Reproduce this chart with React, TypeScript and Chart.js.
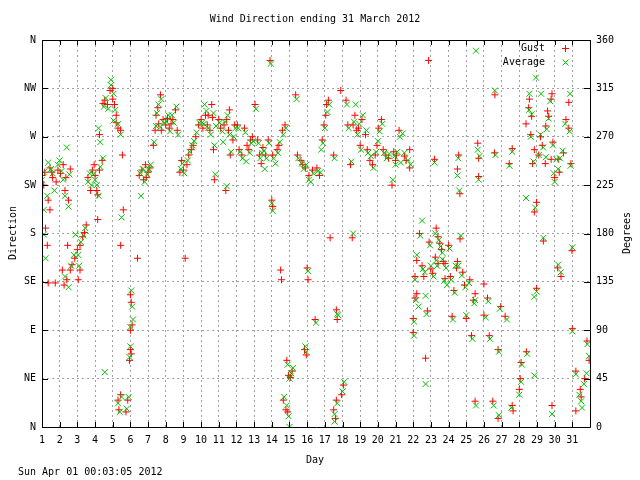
import React, { useEffect, useRef } from "react";
import { Chart, registerables } from "chart.js";

Chart.register(...registerables);

const TITLE = "Wind Direction ending 31 March 2012";
const FOOTER = "Sun Apr 01 00:03:05 2012";
const X_TITLE = "Day";
const Y_TITLE = "Direction";
const Y2_TITLE = "Degrees";
const COMPASS = ["N", "NE", "E", "SE", "S", "SW", "W", "NW", "N"];
const SERIES_NAMES = ["Gust", "Average"];

// [day, degrees]
const gustPoints: number[][] = [
  [1.0,234],[1.15,237],[1.45,241],[1.55,237],[1.1,225],[1.35,211],[1.45,202],[1.2,185],[1.3,169],[1.35,134],[1.75,134],[1.9,239],[1.6,232],[1.8,228],
  [2.05,236],[2.2,244],[2.3,220],[2.5,211],[2.15,146],[2.25,132],[2.4,137],[2.6,146],[2.7,151],[2.85,157],[2.45,169],[2.35,232],[2.6,240],
  [3.0,165],[3.15,169],[3.3,177],[3.4,181],[3.5,188],[3.15,146],[3.05,137],[3.75,220],[3.85,239],[3.95,244],[3.6,232],
  [4.0,234],[4.1,220],[4.15,216],[4.25,239],[4.4,248],[4.15,193],[4.25,272],[4.45,301],[4.55,304],[4.7,300],[4.85,313],
  [5.0,315],[5.1,300],[5.2,290],[5.3,278],[5.45,276],[5.55,253],[5.6,202],[5.45,169],[5.3,25],[5.35,16],[5.45,30],[5.75,14],[5.85,25],[5.0,305],[5.2,283],
  [6.0,123],[6.05,116],[6.0,90],[6.0,72],[5.95,62],[6.4,157],[6.5,234],[6.65,239],[6.75,230],[6.9,232],[6.85,244],[6.1,95],[6.05,68],
  [7.0,237],[7.1,241],[7.3,262],[7.4,276],[7.45,290],[7.55,297],[7.7,309],[7.85,286],[7.75,276],[7.6,282],
  [8.0,281],[8.1,287],[8.2,278],[8.4,286],[8.55,295],[8.65,276],[8.8,237],[8.3,282],
  [8.9,248],[9.0,239],[9.2,244],[9.3,253],[9.45,258],[9.55,262],[9.1,157],[9.85,281],[9.7,270],
  [10.0,286],[10.1,278],[10.25,290],[10.35,281],[10.5,276],[10.65,288],[10.75,230],[10.7,258],[10.6,300],[10.4,290],
  [11.0,286],[11.1,278],[11.3,281],[11.45,286],[11.55,276],[11.65,253],[11.8,267],[11.4,220],[11.6,295],[11.9,281],
  [12.05,281],[12.15,258],[12.3,253],[12.45,278],[12.7,258],[12.8,267],[12.6,262],[12.9,270],
  [13.05,300],[13.2,267],[13.3,253],[13.5,260],[13.65,253],[13.8,267],[13.4,245],
  [13.9,341],[14.05,253],[14.0,211],[14.05,205],[14.3,258],[14.4,262],[14.6,276],[14.5,146],[14.65,25],[14.8,16],[14.75,281],[14.55,137],
  [14.85,62],[14.95,48],[15.05,46],[14.9,14],[15.35,309],[15.45,253],[15.65,248],[15.75,244],[15.15,52],
  [15.9,241],[16.0,148],[16.05,137],[16.1,234],[16.3,239],[16.45,100],[16.55,241],[16.7,234],[15.85,72],[15.95,67],
  [16.85,267],[16.95,281],[17.05,290],[17.2,304],[17.3,176],[17.5,253],[17.1,300],
  [17.65,109],[17.7,100],[17.5,16],[17.65,25],[17.95,30],[18.05,39],[17.9,313],[18.2,304],[18.3,281],[17.6,8],
  [18.45,244],[18.55,176],[18.6,281],[18.8,276],[18.9,278],[19.0,262],[19.1,286],[19.3,272],[18.7,290],
  [19.4,258],[19.55,248],[19.7,244],[19.85,253],[20.05,278],[20.2,286],[20.3,258],[19.95,262],
  [20.45,253],[20.6,250],[20.8,225],[20.9,256],[21.05,253],[21.2,276],[21.0,248],
  [22.87,341],[26.62,309],[28.57,305],[29.85,310],[30.8,302],[29.8,305],[28.53,297],[29.6,294],[28.7,289],[29.66,289],[30.64,286],[28.38,282],[29.5,280],[30.8,278],[28.65,272],[29.2,270],[29.9,265],[29.3,262],[28.85,258],[29.1,253],[29.8,249],[30.2,249],[30.5,255],[28.75,245],[29.47,245],[30.92,245],[30.26,237],[30.0,232],
  [26.6,255],[27.6,259],[27.43,245],[25.65,264],[25.7,250],[25.7,233],[24.57,253],[24.5,240],[24.64,217],[21.5,252],[21.8,258],[21.8,241],[21.6,248],[23.2,249],
  [28.98,209],[28.85,200],[29.36,173],[30.98,164],[30.17,148],[30.36,140],[28.98,129],[31.0,91.5],[31.83,80],[31.95,62],[31.2,52],[31.7,45],[31.45,35],[31.5,28],[31.2,15],[29.85,20],
  [28.4,70],[28.1,60],[28.05,45],[28.0,35],[27.6,20],[27.65,15],[26.8,8],[26.5,24],[25.5,24],[25.3,85],[26.3,85],[26.8,72],[26.95,112],[27.2,103],[26.2,120],[26.0,104],[26.0,133],[25.5,124],[25.0,101],[24.2,103],[24.3,127],
  [23.8,138],[25.2,137],[24.8,144],[24.45,148],[23.7,154],[23.4,152],[23.0,147],[22.6,140],[22.2,155],[22.1,140],[22.1,120],[22.2,124],[22.8,108],[22.0,101],[22.0,88],[22.7,64],
  [22.35,180],[22.9,172],[23.3,185],[23.4,177],[23.5,171],[24.0,169],[24.65,175],[23.25,158],[23.8,152],[24.5,154],[23.1,143],[22.5,150],[23.6,165],[24.1,140],[24.9,132],[25.4,118]
];

const averagePoints: number[][] = [
  [1.1,237],[1.35,246],[1.1,202],[1.2,157],[1.1,179],[1.7,220],[1.9,244],[2.0,248],[1.0,230],[1.5,240],[1.6,236],[1.3,215],
  [2.1,238],[2.4,260],[2.3,215],[2.5,205],[2.3,140],[2.5,130],[2.65,150],[2.9,179],[2.8,160],[2.2,230],[2.55,235],
  [3.05,160],[3.2,172],[3.35,178],[3.45,185],[3.1,150],[3.8,225],[3.9,235],[3.7,236],[3.6,228],
  [4.0,230],[4.1,225],[4.2,215],[4.3,242],[4.45,250],[4.3,265],[4.5,298],[4.6,306],[4.75,296],[4.55,51],[4.9,318],[4.2,278],
  [4.9,323],[5.05,310],[5.15,295],[5.3,282],[5.45,272],[5.5,195],[5.3,22],[5.4,14],[5.5,28],[5.8,17],[5.9,28],[5.05,285],
  [6.05,127],[6.1,112],[6.0,93],[6.0,75],[5.95,65],[6.55,236],[6.7,240],[6.8,228],[6.95,235],[6.6,215],[6.15,100],
  [7.05,240],[7.15,244],[7.35,265],[7.45,280],[7.5,292],[7.6,300],[7.75,305],[7.9,283],[7.7,279],
  [8.05,284],[8.15,290],[8.25,275],[8.45,283],[8.6,298],[8.7,272],[8.85,240],[8.35,290],
  [8.95,245],[9.05,236],[9.25,248],[9.35,256],[9.5,262],[9.6,266],[9.9,283],[9.75,274],
  [10.05,283],[10.15,282],[10.3,294],[10.4,278],[10.55,272],[10.7,292],[10.8,235],[10.75,262],[10.2,300],[10.85,280],
  [11.05,283],[11.2,275],[11.35,284],[11.5,290],[11.6,272],[11.7,256],[11.85,270],[11.45,224],[11.95,278],[11.25,265],
  [12.1,278],[12.2,256],[12.35,250],[12.5,274],[12.75,255],[12.85,264],[12.55,247],[12.95,266],
  [13.1,296],[13.25,264],[13.35,250],[13.55,257],[13.7,250],[13.85,264],[13.45,255],[13.6,240],
  [13.95,338],[14.1,250],[14.0,208],[14.05,201],[14.35,255],[14.45,265],[14.65,272],[14.7,28],[14.85,20],[14.8,278],[14.2,245],
  [14.9,58],[15.0,45],[15.1,50],[14.95,10],[15.0,0],[15.4,305],[15.5,250],[15.7,245],[15.8,240],[15.2,55],
  [15.95,244],[16.05,145],[16.1,230],[16.35,236],[16.5,97],[16.6,238],[16.75,237],[15.9,75],[15.95,70],[16.2,228],
  [16.9,264],[17.0,278],[17.15,293],[17.25,300],[17.55,250],[16.8,258],
  [17.7,105],[17.75,104],[17.55,12],[17.7,22],[18.0,33],[18.1,42],[18.25,300],[18.35,278],[17.55,5],
  [18.5,247],[18.6,180],[18.65,284],[18.85,272],[18.95,282],[19.05,258],[19.15,290],[19.35,276],[18.75,300],
  [19.45,255],[19.6,252],[19.75,241],[19.9,256],[20.1,275],[20.25,282],[20.35,255],[20.0,266],
  [20.5,250],[20.65,254],[20.85,230],[20.95,252],[21.1,256],[21.25,270],[21.0,244],[21.3,246],
  [25.55,350],[28.94,325],[26.62,313],[28.57,310],[29.23,310],[30.87,310],[29.75,303],[28.55,295],[28.7,291],[29.66,287],[30.6,282],[29.55,277],[30.85,275],[28.65,270],[29.2,272],[29.9,262],[29.35,260],[29.1,253],[29.5,251],[30.1,249],[30.3,250],[30.45,257],[28.8,247],[30.9,243],[30.2,240],[30.0,228],[29.95,236],
  [26.65,253],[27.6,256],[27.45,243],[25.65,258],[25.75,252],[25.7,230],[24.55,250],[24.5,234],[24.6,220],[21.5,255],[21.7,248],[21.85,244],[21.4,273],[23.2,246],
  [28.38,213],[28.9,204],[29.36,176],[31.0,167],[30.2,151],[30.35,144],[28.98,126],[28.85,121],[31.0,89],[31.85,77],[31.95,66],[31.2,49],[31.8,50],[31.65,40],[31.4,30],[31.5,24],[31.55,18],[29.85,12],[28.85,48],
  [28.45,68],[28.15,58],[28.1,42],[28.0,30],[27.55,18],[26.85,11],[26.55,20],[25.55,20],[25.35,82],[26.35,82],[26.85,70],[26.9,110],[27.3,100],[26.25,117],[26.1,102],[25.5,118],[25.0,104],[24.25,100],[24.35,125],
  [23.75,136],[25.15,134],[24.75,141],[24.4,150],[23.65,156],[23.35,150],[23.0,150],[22.65,144],[22.2,160],[22.1,137],[22.15,118],[22.3,112],[22.75,105],[22.05,98],[22.05,85],[22.7,40],
  [22.4,178],[22.5,192],[22.95,169],[23.25,180],[23.45,174],[23.55,168],[24.05,166],[24.7,178],[23.3,155],[23.85,148],[24.55,150],[23.15,140],[22.55,147],[23.65,162],[24.15,137],[24.95,130],[25.45,115],[22.7,122],[23.9,132]
];

const GUST_COLOR = "#ff0000";
const AVG_COLOR = "#00c000";
const FONT = '10px "DejaVu Sans Mono", monospace';

const framePlugin = {
  id: "gnuframe",
  afterDraw(chart: any) {
    const { ctx, chartArea } = chart;
    const { left, right, top, bottom } = chartArea;
    const xs = chart.scales.x;
    const ys = chart.scales.y;
    ctx.save();
    ctx.strokeStyle = "#000";
    ctx.lineWidth = 1;
    ctx.beginPath();
    ctx.rect(Math.round(left) + 0.5, Math.round(top) + 0.5, Math.round(right - left), Math.round(bottom - top));
    ctx.stroke();
    // inward ticks
    ctx.beginPath();
    xs.ticks.forEach((t: any) => {
      const px = Math.round(xs.getPixelForValue(t.value)) + 0.5;
      ctx.moveTo(px, bottom);
      ctx.lineTo(px, bottom - 5);
      ctx.moveTo(px, top);
      ctx.lineTo(px, top + 5);
    });
    ys.ticks.forEach((t: any) => {
      const py = Math.round(ys.getPixelForValue(t.value)) + 0.5;
      ctx.moveTo(left, py);
      ctx.lineTo(left + 6, py);
      ctx.moveTo(right, py);
      ctx.lineTo(right - 6, py);
    });
    ctx.stroke();

    ctx.fillStyle = "#000";
    ctx.font = FONT;
    ctx.textBaseline = "middle";
    ctx.textAlign = "center";
    ctx.fillText(TITLE, 315, 19);
    ctx.fillText(X_TITLE, 315, 460);
    ctx.textAlign = "left";
    ctx.fillText(FOOTER, 18, 472);
    ctx.save();
    ctx.translate(13, 233);
    ctx.rotate(-Math.PI / 2);
    ctx.textAlign = "center";
    ctx.fillText(Y_TITLE, 0, 0);
    ctx.restore();
    ctx.save();
    ctx.translate(627, 233);
    ctx.rotate(-Math.PI / 2);
    ctx.textAlign = "center";
    ctx.fillText(Y2_TITLE, 0, 0);
    ctx.restore();

    // key
    ctx.textAlign = "right";
    ctx.fillText(SERIES_NAMES[0], 545, 48);
    ctx.fillText(SERIES_NAMES[1], 545, 62);
    ctx.lineWidth = 1;
    ctx.strokeStyle = GUST_COLOR;
    ctx.beginPath();
    ctx.moveTo(562, 48.5); ctx.lineTo(569, 48.5);
    ctx.moveTo(565.5, 45); ctx.lineTo(565.5, 52);
    ctx.stroke();
    ctx.strokeStyle = AVG_COLOR;
    ctx.beginPath();
    ctx.moveTo(562.5, 59.5); ctx.lineTo(568.5, 65.5);
    ctx.moveTo(568.5, 59.5); ctx.lineTo(562.5, 65.5);
    ctx.stroke();
    ctx.restore();
  },
};

export default function App() {
  const ref = useRef<HTMLCanvasElement | null>(null);
  useEffect(() => {
    if (!ref.current) return;
    const toXY = (p: number[]) => ({ x: p[0], y: p[1] });
    const chart = new Chart(ref.current, {
      type: "scatter",
      data: {
        datasets: [
          {
            label: SERIES_NAMES[1],
            data: averagePoints.map(toXY),
            pointStyle: "crossRot",
            radius: 4.2,
            borderColor: AVG_COLOR,
            backgroundColor: AVG_COLOR,
            borderWidth: 1,
            yAxisID: "y",
          },
          {
            label: SERIES_NAMES[0],
            data: gustPoints.map(toXY),
            pointStyle: "cross",
            radius: 3.5,
            borderColor: GUST_COLOR,
            backgroundColor: GUST_COLOR,
            borderWidth: 1,
            yAxisID: "y",
          },
        ],
      },
      plugins: [framePlugin],
      options: {
        animation: false,
        responsive: false,
        devicePixelRatio: 1,
        layout: { padding: { top: 40, left: 0, right: 0, bottom: 0 } },
        plugins: { legend: { display: false }, tooltip: { enabled: false }, title: { display: false } },
        scales: {
          x: {
            type: "linear",
            min: 1,
            max: 32,
            afterFit: (s: any) => { s.height = 53; },
            ticks: {
              stepSize: 1,
              autoSkip: false,
              maxRotation: 0,
              padding: 7,
              color: "#000",
              font: { family: '"DejaVu Sans Mono", monospace', size: 10 },
              callback: (v: any) => (v === 32 ? "" : String(v)),
            },
            grid: { color: "#a0a0a0", lineWidth: 1, drawTicks: false },
            border: { display: false, dash: [2, 3] },
          },
          y: {
            type: "linear",
            position: "left",
            min: 0,
            max: 360,
            afterFit: (s: any) => { s.width = 42; },
            ticks: {
              stepSize: 45,
              padding: 6,
              color: "#000",
              font: { family: '"DejaVu Sans Mono", monospace', size: 10 },
              callback: (v: any) => COMPASS[Math.round(Number(v) / 45)],
            },
            grid: { color: "#a0a0a0", lineWidth: 1, drawTicks: false },
            border: { display: false, dash: [2, 3] },
          },
          y2: {
            type: "linear",
            position: "right",
            min: 0,
            max: 360,
            afterFit: (s: any) => { s.width = 50; },
            ticks: {
              stepSize: 45,
              padding: 6,
              color: "#000",
              font: { family: '"DejaVu Sans Mono", monospace', size: 10 },
            },
            grid: { display: false, drawTicks: false },
            border: { display: false },
          },
        },
      },
    });
    return () => chart.destroy();
  }, []);
  return (
    <div style={{ position: "absolute", left: 0, top: 0, width: 640, height: 480, background: "#fff" }}>
      <canvas ref={ref} width={640} height={480} style={{ width: 640, height: 480 }} />
    </div>
  );
}
